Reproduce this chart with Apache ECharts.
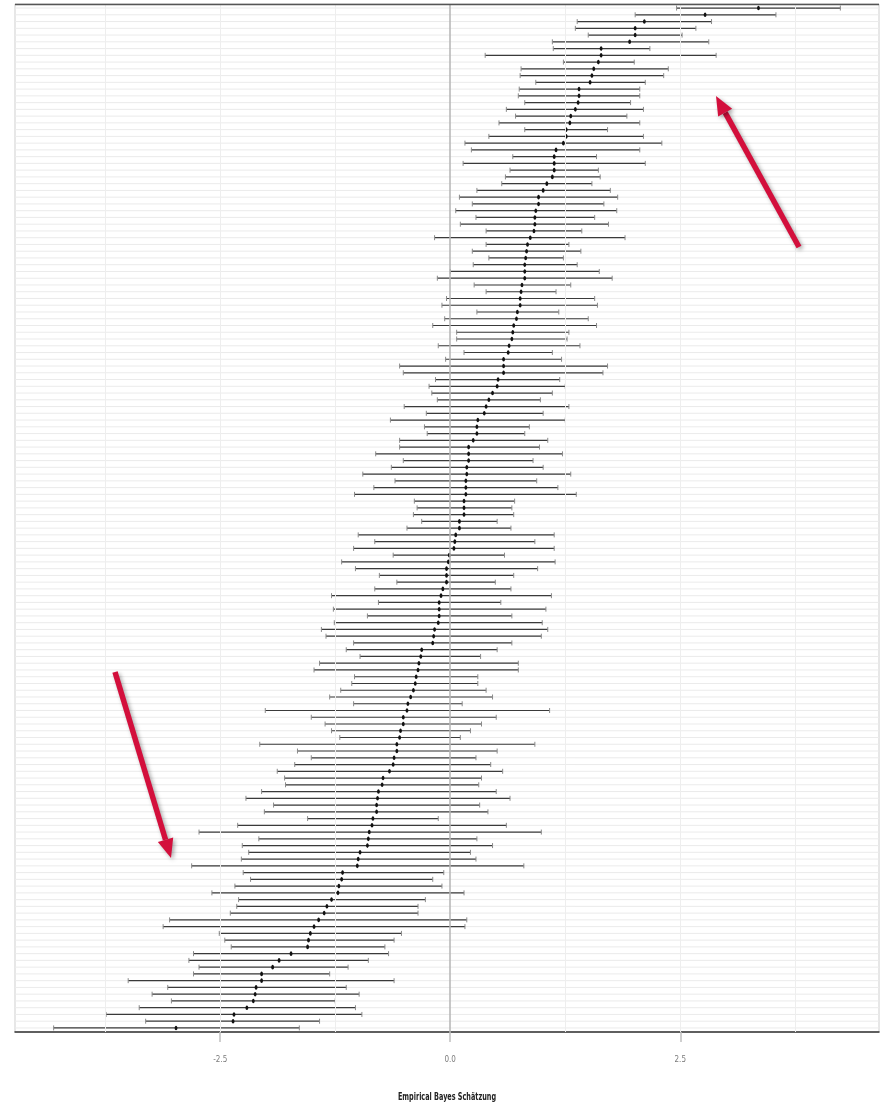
<!DOCTYPE html>
<html>
<head>
<meta charset="utf-8">
<script src="https://cdn.jsdelivr.net/npm/echarts@6/dist/echarts.min.js"></script>
<style>
  html, body { margin: 0; padding: 0; background: #fff; }
  #chart { width: 884px; height: 1102px; }
</style>
</head>
<body>
<div id="chart"></div>
<script>
// Empirical Bayes estimates with intervals, top row first
var est = [
  3.35, 2.77, 2.11, 2.01, 2.01, 1.95, 1.64, 1.64, 1.61, 1.56,
  1.54, 1.52, 1.40, 1.40, 1.39, 1.36, 1.31, 1.30, 1.26, 1.26,
  1.23, 1.15, 1.13, 1.13, 1.13, 1.11, 1.05, 1.01, 0.96, 0.96,
  0.93, 0.92, 0.92, 0.91, 0.87, 0.84, 0.83, 0.82, 0.81, 0.81,
  0.81, 0.78, 0.77, 0.76, 0.76, 0.73, 0.72, 0.69, 0.68, 0.67,
  0.64, 0.63, 0.58, 0.58, 0.58, 0.52, 0.51, 0.46, 0.42, 0.39,
  0.37, 0.30, 0.29, 0.29, 0.25, 0.20, 0.20, 0.20, 0.18, 0.18,
  0.17, 0.17, 0.17, 0.15, 0.15, 0.15, 0.10, 0.10, 0.06, 0.05,
  0.04, -0.01, -0.02, -0.04, -0.04, -0.04, -0.08, -0.10, -0.12, -0.12,
  -0.12, -0.13, -0.17, -0.18, -0.19, -0.31, -0.32, -0.34, -0.35, -0.37,
  -0.38, -0.40, -0.43, -0.46, -0.47, -0.51, -0.51, -0.54, -0.55, -0.58,
  -0.58, -0.61, -0.62, -0.66, -0.73, -0.74, -0.78, -0.79, -0.80, -0.80,
  -0.84, -0.85, -0.88, -0.89, -0.90, -0.98, -1.00, -1.01, -1.17, -1.18,
  -1.21, -1.22, -1.29, -1.34, -1.37, -1.43, -1.48, -1.52, -1.54, -1.55,
  -1.73, -1.86, -1.93, -2.05, -2.05, -2.11, -2.12, -2.14, -2.21, -2.35,
  -2.36, -2.98
]
var lower = [
  2.46, 2.01, 1.38, 1.36, 1.50, 1.11, 1.12, 0.38, 1.23, 0.77,
  0.76, 0.93, 0.75, 0.74, 0.81, 0.61, 0.71, 0.53, 0.81, 0.42,
  0.16, 0.23, 0.68, 0.14, 0.65, 0.60, 0.56, 0.29, 0.10, 0.24,
  0.06, 0.28, 0.11, 0.39, -0.17, 0.39, 0.24, 0.42, 0.25, 0.00,
  -0.14, 0.26, 0.39, -0.04, -0.09, 0.29, -0.06, -0.19, 0.07, 0.07,
  -0.13, 0.15, -0.05, -0.55, -0.51, -0.16, -0.23, -0.20, -0.14, -0.50,
  -0.26, -0.65, -0.28, -0.25, -0.55, -0.55, -0.81, -0.51, -0.64, -0.95,
  -0.60, -0.83, -1.04, -0.39, -0.36, -0.40, -0.31, -0.47, -1.00, -0.82,
  -1.05, -0.62, -1.18, -1.03, -0.77, -0.58, -0.82, -1.29, -0.78, -1.27,
  -0.90, -1.26, -1.40, -1.35, -1.05, -1.13, -0.98, -1.42, -1.48, -1.04,
  -1.07, -1.19, -1.31, -1.05, -2.01, -1.51, -1.36, -1.29, -1.20, -2.07,
  -1.66, -1.51, -1.69, -1.88, -1.80, -1.79, -2.05, -2.22, -1.92, -2.02,
  -1.55, -2.31, -2.73, -2.08, -2.26, -2.19, -2.27, -2.81, -2.25, -2.17,
  -2.34, -2.59, -2.30, -2.32, -2.39, -3.05, -3.12, -2.51, -2.45, -2.38,
  -2.79, -2.84, -2.73, -2.79, -3.50, -3.07, -3.24, -3.03, -3.38, -3.74,
  -3.31, -4.31
]
var upper = [
  4.24, 3.54, 2.84, 2.67, 2.52, 2.81, 2.17, 2.89, 2.00, 2.37,
  2.32, 2.12, 2.06, 2.06, 1.96, 2.10, 1.92, 2.06, 1.71, 2.10,
  2.30, 2.06, 1.59, 2.12, 1.61, 1.63, 1.54, 1.74, 1.82, 1.67,
  1.81, 1.57, 1.72, 1.43, 1.90, 1.29, 1.42, 1.23, 1.38, 1.62,
  1.76, 1.31, 1.15, 1.57, 1.60, 1.18, 1.50, 1.59, 1.29, 1.27,
  1.41, 1.11, 1.21, 1.71, 1.66, 1.19, 1.25, 1.11, 0.98, 1.29,
  1.01, 1.25, 0.86, 0.81, 1.06, 0.97, 1.22, 0.90, 1.01, 1.31,
  0.94, 1.17, 1.37, 0.70, 0.67, 0.69, 0.51, 0.66, 1.13, 0.92,
  1.13, 0.59, 1.14, 0.95, 0.69, 0.49, 0.66, 1.10, 0.55, 1.04,
  0.67, 1.00, 1.06, 0.99, 0.67, 0.51, 0.33, 0.74, 0.74, 0.30,
  0.30, 0.39, 0.46, 0.13, 1.08, 0.50, 0.34, 0.22, 0.11, 0.92,
  0.51, 0.28, 0.44, 0.57, 0.34, 0.31, 0.50, 0.65, 0.32, 0.41,
  -0.13, 0.61, 0.99, 0.29, 0.46, 0.22, 0.28, 0.80, -0.07, -0.19,
  -0.09, 0.15, -0.27, -0.35, -0.35, 0.18, 0.16, -0.53, -0.61, -0.71,
  -0.67, -0.89, -1.11, -1.31, -0.61, -1.13, -0.99, -1.25, -1.03, -0.96,
  -1.42, -1.64
]
var xTicks = [-2.5, 0, 2.5]
var xGrid = [-3.75, -2.5, -1.25, 1.25, 2.5, 3.75]

var rows = []
for (var i = 0; i < est.length; i++) {
  rows.push([i + 1, lower[i], est[i], upper[i]])
}

var chart = echarts.init(document.getElementById('chart'))

function renderItem(params, api) {
  var row = api.value(0)
  var lo = api.coord([api.value(1), row])
  var mid = api.coord([api.value(2), row])
  var hi = api.coord([api.value(3), row])
  var cs = params.coordSys
  var cap = 2.5
  return {
    type: 'group',
    children: [
      {
        type: 'line',
        shape: { x1: cs.x, y1: mid[1], x2: cs.x + cs.width, y2: mid[1] },
        style: { stroke: '#ebebeb', lineWidth: 1 },
        z2: 0
      },
      {
        type: 'line',
        shape: { x1: lo[0], y1: lo[1], x2: hi[0], y2: hi[1] },
        style: { stroke: '#3a3a3a', lineWidth: 1.2 },
        z2: 2
      },
      {
        type: 'line',
        shape: { x1: lo[0], y1: lo[1] - cap, x2: lo[0], y2: lo[1] + cap },
        style: { stroke: '#8a8a8a', lineWidth: 1 },
        z2: 2
      },
      {
        type: 'line',
        shape: { x1: hi[0], y1: hi[1] - cap, x2: hi[0], y2: hi[1] + cap },
        style: { stroke: '#8a8a8a', lineWidth: 1 },
        z2: 2
      },
      {
        type: 'ellipse',
        shape: { cx: mid[0], cy: mid[1], rx: 1.4, ry: 2.3 },
        style: { fill: '#111' },
        z2: 3
      }
    ]
  }
}

function arrow(x1, y1, x2, y2) {
  var ang = Math.atan2(y2 - y1, x2 - x1)
  var len = 19
  var half = 8
  var bx = x2 - len * Math.cos(ang)
  var by = y2 - len * Math.sin(ang)
  var px = -Math.sin(ang)
  var py = Math.cos(ang)
  var shadow = { shadowBlur: 4, shadowColor: 'rgba(0,0,0,0.35)', shadowOffsetX: 2, shadowOffsetY: 2 }
  return [
    {
      type: 'line',
      shape: { x1: x1, y1: y1, x2: bx, y2: by },
      style: Object.assign({ stroke: '#d30f3c', lineWidth: 5.5 }, shadow),
      z: 50
    },
    {
      type: 'polygon',
      shape: { points: [[x2, y2], [bx + px * half, by + py * half], [bx - px * half, by - py * half]] },
      style: Object.assign({ fill: '#d30f3c' }, shadow),
      z: 50
    }
  ]
}

var gridLines = xGrid.map(function (v) {
  return { xAxis: v, lineStyle: { color: '#eeeeee', width: 1, type: 'solid' } }
})
gridLines.push({ xAxis: 0, lineStyle: { color: '#b5b5b5', width: 1.5, type: 'solid' } })

chart.setOption({
  animation: false,
  backgroundColor: '#fff',
  grid: {
    left: 15,
    right: 5,
    top: 4,
    bottom: 70,
    show: true,
    borderColor: '#cfcfcf',
    borderWidth: 1
  },
  xAxis: {
    type: 'value',
    min: -4.73,
    max: 4.66,
    axisLine: { show: true, onZero: false, lineStyle: { color: '#333', width: 1.5 } },
    axisTick: { show: true, customValues: xTicks, length: 10, lineStyle: { color: '#c0c0c0', width: 1.5 } },
    axisLabel: {
      customValues: xTicks,
      margin: 24,
      color: '#7a7a7a',
      fontSize: 8,
      fontFamily: 'Liberation Sans Narrow, DejaVu Sans Condensed, sans-serif',
      formatter: function (v) { return v.toFixed(1) }
    },
    splitLine: { show: false }
  },
  yAxis: {
    type: 'value',
    inverse: true,
    min: 0.4,
    max: est.length + 0.6,
    axisLine: { show: false },
    axisTick: { show: false },
    axisLabel: { show: false },
    splitLine: { show: false }
  },
  graphic: [
    {
      type: 'line',
      shape: { x1: 15, y1: 4.5, x2: 879, y2: 4.5 },
      style: { stroke: '#555', lineWidth: 1.5 },
      z: 40
    },
    {
      type: 'text',
      x: 447,
      y: 1097,
      scaleX: 0.72,
      style: {
        text: 'Empirical Bayes Schätzung',
        fill: '#222',
        fontSize: 10,
        fontWeight: 'bold',
        fontFamily: 'Liberation Sans Narrow, DejaVu Sans Condensed, sans-serif',
        align: 'center',
        verticalAlign: 'middle'
      },
      z: 40
    }
  ].concat(arrow(799, 247, 716, 96), arrow(115, 672, 171, 858)),
  series: [
    {
      type: 'line',
      data: [],
      silent: true,
      z: 1,
      markLine: {
        silent: true,
        symbol: ['none', 'none'],
        label: { show: false },
        data: gridLines
      }
    },
    {
      type: 'custom',
      renderItem: renderItem,
      encode: { x: [1, 2, 3], y: 0 },
      data: rows,
      z: 2
    }
  ]
})
</script>
</body>
</html>
